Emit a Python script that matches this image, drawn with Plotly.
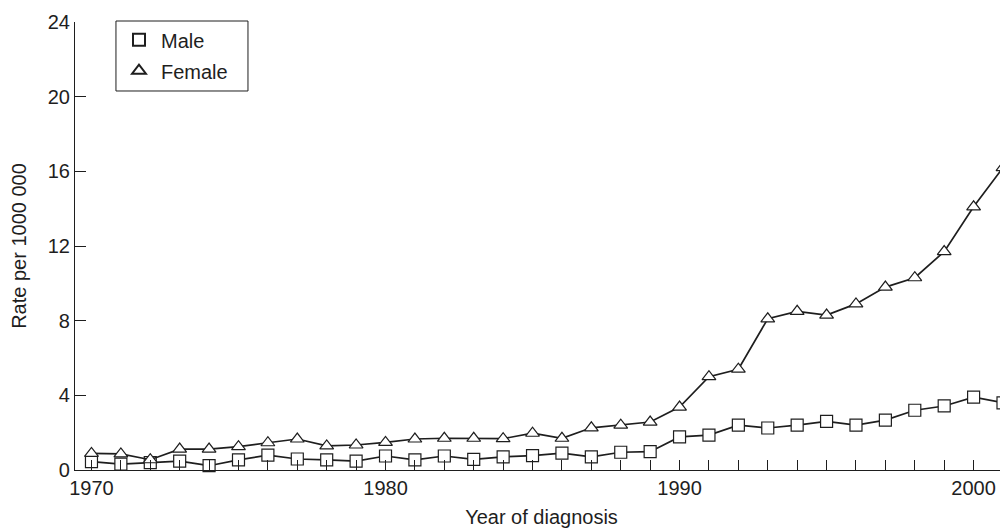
import plotly.graph_objects as go

years = list(range(1970, 2002))
male = [0.45, 0.32, 0.40, 0.48, 0.23, 0.54, 0.80, 0.59, 0.54, 0.48,
        0.75, 0.54, 0.75, 0.57, 0.70, 0.77, 0.90, 0.70, 0.95, 0.98,
        1.77, 1.87, 2.40, 2.25, 2.40, 2.60, 2.40, 2.67, 3.20, 3.43,
        3.90, 3.60]
female = [0.89, 0.86, 0.55, 1.12, 1.12, 1.25, 1.46, 1.66, 1.29, 1.34,
          1.48, 1.66, 1.70, 1.70, 1.68, 1.97, 1.70, 2.26, 2.40, 2.57,
          3.37, 5.00, 5.40, 8.10, 8.50, 8.30, 8.90, 9.80, 10.30, 11.70,
          14.10, 16.20]
y_ticks = [0, 4, 8, 12, 16, 20, 24]
x_ticks = [1970, 1980, 1990, 2000]

ink = "#1e1e1e"
font = "Liberation Sans, Arial, Helvetica, sans-serif"

fig = go.Figure()
for name, vals, sym, size in [("Male", male, "square", 12), ("Female", female, "triangle-up", 12)]:
    fig.add_trace(go.Scatter(
        x=years, y=vals, mode="lines+markers", name=name, showlegend=False,
        cliponaxis=False,
        line=dict(color=ink, width=1.7),
        marker=dict(symbol=sym, size=size, color="white", line=dict(color=ink, width=1.2)),
    ))
    fig.add_trace(go.Scatter(
        x=[None], y=[None], mode="markers", name=name, showlegend=True,
        legendgroup=name,
        marker=dict(symbol=sym, size=size - 1, color="white", line=dict(color=ink, width=1.1)),
    ))

# legend frame
fig.add_shape(type="rect", xref="paper", yref="paper",
              x0=0.0439, x1=0.1854, y0=0.846, y1=1.0022,
              line=dict(color=ink, width=1), fillcolor="rgba(0,0,0,0)", layer="above")

fig.update_layout(
    width=1000, height=520,
    margin=dict(l=67, r=0, t=14, b=58),
    paper_bgcolor="white", plot_bgcolor="white",
    font=dict(family=font, size=20, color=ink),
    legend=dict(
        x=0.045, y=1.004, xanchor="left", yanchor="top",
        borderwidth=0, bgcolor="rgba(0,0,0,0)",
        font=dict(size=20), itemsizing="constant", itemwidth=34,
        tracegroupgap=2,
    ),
    xaxis=dict(
        range=[1969.44, 2001.17], tickmode="array", tickvals=x_ticks,
        ticks="inside", ticklen=10, tickwidth=1, tickcolor=ink,
        minor=dict(dtick=1, tick0=1970, ticks="inside", ticklen=10, tickwidth=1, tickcolor=ink),
        showline=True, linecolor=ink, linewidth=1.2, showgrid=False, zeroline=False,
        title=dict(text="Year of diagnosis", standoff=14, font=dict(size=20)),
        tickfont=dict(size=20),
    ),
    yaxis=dict(
        range=[0, 24], tickmode="array", tickvals=y_ticks,
        ticks="inside", ticklen=11, tickwidth=1, tickcolor=ink,
        showline=True, linecolor=ink, linewidth=1.2, showgrid=False, zeroline=False,
        title=dict(text="Rate per 1000 000", standoff=15, font=dict(size=20)),
        tickfont=dict(size=20),
    ),
)

fig.write_html("out.html")
